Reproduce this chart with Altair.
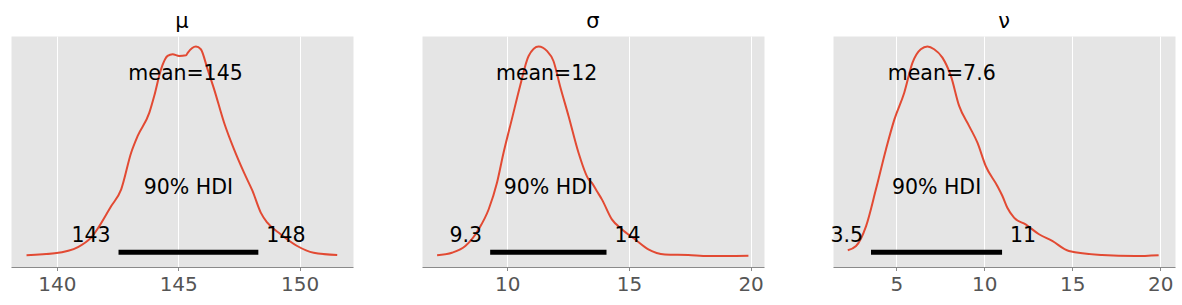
import altair as alt
import pandas as pd

FONT = "DejaVu Sans"

# ---- data ----
titles = ["μ", "σ", "ν"]

mu_x = [138.75, 139.91, 140.87, 141.41, 142.24, 142.65, 143.06, 143.33, 143.81, 144.01,
        144.29, 144.56, 144.77, 145.04, 145.32, 145.39, 145.73, 145.93, 146.21, 146.48,
        146.89, 147.30, 147.71, 148.06, 148.40, 148.67, 149.22, 149.90, 150.58, 151.55]
mu_d = [0.006, 0.015, 0.045, 0.090, 0.240, 0.320, 0.494, 0.574, 0.685, 0.764,
        0.891, 0.955, 0.963, 0.955, 0.958, 0.970, 1.000, 0.987, 0.891, 0.796,
        0.637, 0.510, 0.399, 0.312, 0.209, 0.161, 0.106, 0.050, 0.018, 0.007]

sigma_x = [7.12, 7.73, 8.28, 8.83, 9.24, 9.58, 9.85, 10.19, 10.53, 10.88,
           11.29, 11.63, 11.90, 12.17, 12.52, 12.93, 13.34, 13.48, 13.68, 13.89,
           14.30, 14.71, 15.25, 15.80, 16.48, 17.44, 18.26, 19.91]
sigma_d = [0.006, 0.018, 0.050, 0.130, 0.225, 0.351, 0.494, 0.653, 0.812, 0.955,
           1.000, 0.979, 0.931, 0.812, 0.669, 0.494, 0.368, 0.351, 0.312, 0.272,
           0.177, 0.130, 0.082, 0.034, 0.010, 0.007, 0.002, 0.004]

nu_x = [2.24, 2.71, 3.28, 3.84, 4.41, 4.89, 5.45, 5.92, 6.39, 6.77,
        7.15, 7.62, 8.10, 8.57, 9.14, 9.61, 10.08, 10.74, 11.03, 11.31,
        11.69, 12.35, 13.11, 13.86, 14.81, 16.69, 18.58, 19.91]
nu_d = [0.030, 0.050, 0.145, 0.320, 0.510, 0.653, 0.780, 0.923, 0.987, 1.000,
        0.987, 0.947, 0.860, 0.717, 0.621, 0.542, 0.431, 0.336, 0.288, 0.232,
        0.185, 0.153, 0.106, 0.074, 0.026, 0.007, 0.002, 0.006]

means = [145.3, 11.62, 7.58]
mean_labels = ["mean=145", "mean=12", "mean=7.6"]
hdi_lo = [142.54, 9.30, 3.56]
hdi_hi = [148.30, 14.08, 11.01]
hdi_lo_labels = ["143", "9.3", "3.5"]
hdi_hi_labels = ["148", "14", "11"]
x_domains = [[138.11, 152.20], [6.50, 20.55], [1.40, 20.84]]
x_ticks = [[140, 145, 150], [10, 15, 20], [5, 10, 15, 20]]

TXT = 20.5
TICK_FS = 20


def panel(i, xs, ds):
    xscale = alt.Scale(domain=x_domains[i], nice=False, zero=False)
    yscale = alt.Scale(domain=[-0.05, 1.05], nice=False, zero=False)
    xaxis = alt.Axis(values=x_ticks[i], title=None, grid=True, gridColor="white",
                     gridWidth=1, gridOpacity=1, domainColor="#8a8a8a", domainWidth=1,
                     tickColor="#8a8a8a", tickSize=3.5, labelColor="#555555",
                     labelFontSize=TICK_FS, labelFont=FONT, labelPadding=4,
                     labelFlush=False, labelOverlap=False, format="d")
    enc_x = alt.X("x:Q", scale=xscale, axis=xaxis)
    enc_y = alt.Y("d:Q", scale=yscale, axis=None)

    curve = alt.Chart(pd.DataFrame({"x": xs, "d": ds})).mark_line(
        color="#E24A33", strokeWidth=2, interpolate="monotone"
    ).encode(x=enc_x, y=enc_y)

    bar = alt.Chart(pd.DataFrame({"x": [hdi_lo[i]], "x2": [hdi_hi[i]], "d": [0.02]})).mark_rule(
        color="black", strokeWidth=5, strokeCap="butt"
    ).encode(x=enc_x, x2="x2:Q", y=enc_y)

    center_df = pd.DataFrame({
        "x": [means[i], (hdi_lo[i] + hdi_hi[i]) / 2],
        "d": [0.84, 0.30],
        "t": [mean_labels[i], "90% HDI"],
    })
    center = alt.Chart(center_df).mark_text(
        align="center", baseline="alphabetic", fontSize=TXT, font=FONT, color="black"
    ).encode(x=enc_x, y=enc_y, text="t:N")

    left = alt.Chart(pd.DataFrame({"x": [hdi_lo[i]], "d": [0.07], "t": [hdi_lo_labels[i]]})).mark_text(
        align="right", baseline="alphabetic", fontSize=TXT, font=FONT, color="black", dx=-8
    ).encode(x=enc_x, y=enc_y, text="t:N")

    right = alt.Chart(pd.DataFrame({"x": [hdi_hi[i]], "d": [0.07], "t": [hdi_hi_labels[i]]})).mark_text(
        align="left", baseline="alphabetic", fontSize=TXT, font=FONT, color="black", dx=8
    ).encode(x=enc_x, y=enc_y, text="t:N")

    return alt.layer(curve, bar, center, left, right).properties(
        width=342, height=231,
        view=alt.ViewBackground(fill="#E5E5E5", stroke="transparent"),
        title=alt.TitleParams(titles[i], fontSize=21, font=FONT, fontWeight="normal",
                              color="black", offset=4, anchor="middle"),
    )


chart = alt.hconcat(
    panel(0, mu_x, mu_d),
    panel(1, sigma_x, sigma_d),
    panel(2, nu_x, nu_d),
    spacing=69, bounds="flush",
).properties(
    padding={"left": 10, "top": 10, "right": 0, "bottom": 0},
    background="white",
).configure(font=FONT).configure_view(fill="#E5E5E5", stroke="transparent").configure_axisX(
    labelFontSize=TICK_FS, labelColor="#555555", gridColor="white", gridOpacity=1
)

chart.save("out.html", embed_options={"renderer": "svg", "actions": False})
